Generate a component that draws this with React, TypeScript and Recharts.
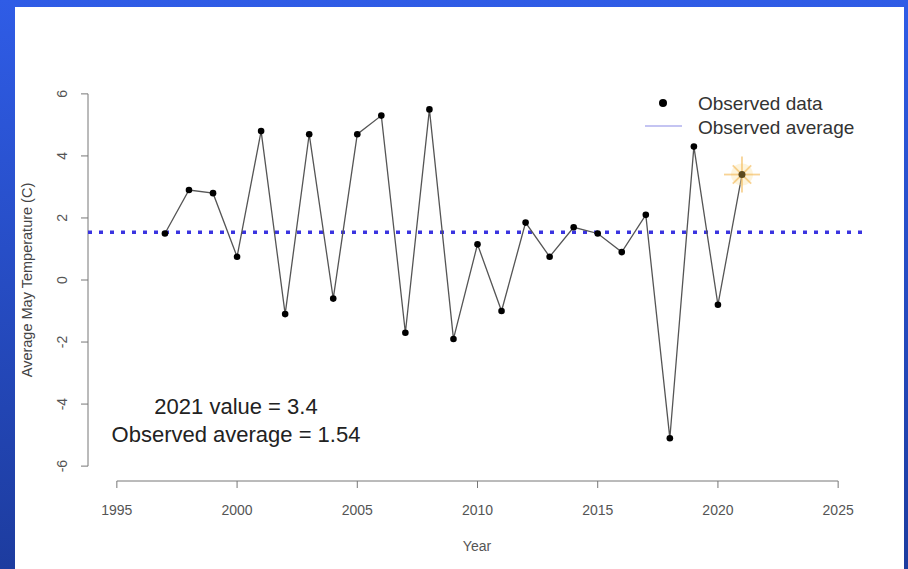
import React from "react";
import {Line, LineChart, ReferenceLine, XAxis, YAxis} from "recharts";

const years = [1997, 1998, 1999, 2000, 2001, 2002, 2003, 2004, 2005, 2006, 2007, 2008, 2009,
    2010, 2011, 2012, 2013, 2014, 2015, 2016, 2017, 2018, 2019, 2020, 2021];
const temps = [1.5, 2.9, 2.8, 0.75, 4.8, -1.1, 4.7, -0.6, 4.7, 5.3, -1.7, 5.5, -1.9,
    1.15, -1.0, 1.85, 0.75, 1.7, 1.5, 0.9, 2.1, -5.1, 4.3, -0.8, 3.4];
const observedAverage = 1.54;
const highlightYear = 2021;
const xTicks = [1995, 2000, 2005, 2010, 2015, 2020, 2025];
const yTicks = [-6, -4, -2, 0, 2, 4, 6];
// R pads the axis range by 4% on each side
const xDomain = [1993.8, 2026.2];
const yDomain = [-6.48, 6.48];

const data = years.map((year, i) => ({year, temp: temps[i]}));

const font = "'Liberation Sans', Arial, sans-serif";
const axisColor = "#777";

const YTick = (props: any) => (
    <g transform={`translate(${props.x},${props.y})`}>
        <text x={0} y={-12} transform="rotate(-90)" textAnchor="middle" fill="#555" fontSize={14}
              fontFamily={font}>{props.payload.value}</text>
    </g>
);

const Dot = (props: any) => {
    const {cx, cy, index, payload} = props;
    if (payload.year === highlightYear) {
        const rays = [0, 45, 90, 135, 180, 225, 270, 315];
        return <g key={`dot-${index}`}>
            <circle cx={cx} cy={cy} r={11} fill="#fbe3a8" opacity={0.4}/>
            {rays.map(a => {
                const len = a % 90 === 0 ? 18 : 13;
                const rad = a * Math.PI / 180;
                return <line key={a} x1={cx} y1={cy} x2={cx + len * Math.cos(rad)} y2={cy + len * Math.sin(rad)}
                             stroke="#f4b64e" strokeWidth={1.8} opacity={0.6}/>;
            })}
            <circle cx={cx} cy={cy} r={3.5} fill="#5c4a1e"/>
        </g>;
    }
    return <circle key={`dot-${index}`} cx={cx} cy={cy} r={3.3} fill="#000"/>;
};

export default function App() {
    return <div style={{position: "fixed", left: 0, top: 0, width: 908, height: 569,
        background: "linear-gradient(to bottom, #2f5ce6, #1d3c9f)", overflow: "hidden"}}>
        <div style={{position: "absolute", left: 15, top: 7, width: 889, height: 562, background: "#fff"}}/>
        <div style={{position: "absolute", left: 0, top: 0}}>
            <LineChart width={908} height={569} data={data} margin={{top: 79, right: 41, left: 28, bottom: 58}}>
                <XAxis dataKey="year" type="number" domain={xDomain} ticks={xTicks} allowDataOverflow
                       axisLine={false} tickSize={7} tickMargin={17} height={30}
                       tickLine={{stroke: axisColor}}
                       tick={{fill: "#555", fontSize: 14, fontFamily: font}}/>
                <YAxis type="number" domain={yDomain} ticks={yTicks} allowDataOverflow width={60}
                       axisLine={false} tickSize={7} tickMargin={2}
                       tickLine={{stroke: axisColor}} tick={<YTick/>}/>
                <ReferenceLine segment={[{x: xTicks[0], y: yDomain[0]}, {x: xTicks[xTicks.length - 1], y: yDomain[0]}]}
                               stroke={axisColor} ifOverflow="visible"/>
                <ReferenceLine segment={[{x: xDomain[0], y: yTicks[0]}, {x: xDomain[0], y: yTicks[yTicks.length - 1]}]}
                               stroke={axisColor} ifOverflow="visible"/>
                <ReferenceLine y={observedAverage} stroke="#3a34e0" strokeWidth={3.5} strokeDasharray="4 7"/>
                <Line type="linear" dataKey="temp" stroke="#555" strokeWidth={1.3} dot={Dot}
                      activeDot={false} isAnimationActive={false}/>
            </LineChart>
        </div>
        <svg style={{position: "absolute", left: 645, top: 91}} width={230} height={50}>
            <circle cx={18} cy={12} r={4} fill="#000"/>
            <line x1={0} x2={37} y1={35} y2={35} stroke="#c4c4f2" strokeWidth={2}/>
            <text x={53} y={12} dy="0.35em" fontSize={19} fill="#333" fontFamily={font}>Observed data</text>
            <text x={53} y={36} dy="0.35em" fontSize={19} fill="#333" fontFamily={font}>Observed average</text>
        </svg>
        <div style={{position: "absolute", left: 14, top: 280, width: 0, height: 0}}>
            <div style={{position: "absolute", transform: "translate(-50%, -50%) rotate(-90deg)", whiteSpace: "nowrap",
                fontFamily: font, fontSize: 14.5, color: "#444", left: 13, top: 0}}>
                Average May Temperature (C)
            </div>
        </div>
        <div style={{position: "absolute", left: 477, top: 546, transform: "translate(-50%, -50%)",
            fontFamily: font, fontSize: 14, color: "#555"}}>Year
        </div>
        <div style={{position: "absolute", left: 236, top: 421, transform: "translate(-50%, -50%)",
            fontFamily: font, fontSize: 22, color: "#222", textAlign: "center", lineHeight: "28px", whiteSpace: "nowrap"}}>
            <div>2021 value = 3.4</div>
            <div>Observed average = 1.54</div>
        </div>
    </div>;
}
